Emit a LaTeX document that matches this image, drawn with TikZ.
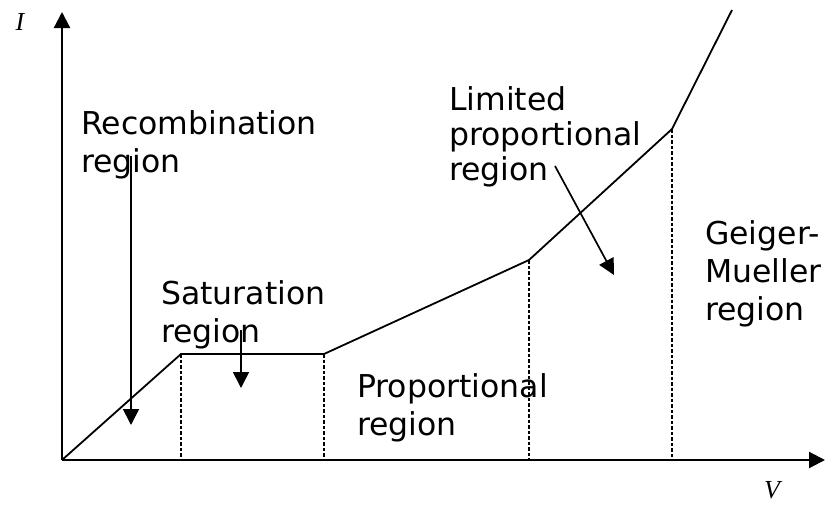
\documentclass[tikz,border=0pt]{standalone}
\usepackage{fontspec}
\setmainfont{DejaVu Sans}
\newfontfamily\axisfont{Liberation Serif}
\usetikzlibrary{arrows.meta}
\begin{document}
\begin{tikzpicture}[x=1pt,y=-1pt,
  axis/.style={line width=2.2pt,-{Triangle[length=16pt,width=16pt]}},
  curve/.style={line width=1.8pt,line join=miter},
  guide/.style={line width=2.7pt,dash pattern=on 3.5pt off 2pt},
  pointer/.style={line width=1.7pt,-{Triangle[length=16pt,width=16pt]}},
  lbl/.style={anchor=base west,inner sep=0pt,align=left,font=\fontsize{31.5}{38}\selectfont},
  axlbl/.style={inner sep=0pt,font=\axisfont\itshape\fontsize{26}{30}\selectfont}]
\useasboundingbox (0,0) rectangle (827,504);
% axes
\coordinate (O) at (62,460);
\coordinate (ytip) at (62,12);
\coordinate (xtip) at (825,460);
\draw[axis] (O) -- (ytip);
\draw[axis] (O) -- (xtip);
\node[axlbl] (I) at (20,22) {I};
\node[axlbl] (V) at (772,490) {V};
% curve
\coordinate (k1) at (181,354);
\coordinate (k2) at (324,354);
\coordinate (k3) at (529,260);
\coordinate (k4) at (672,129);
\coordinate (kend) at (732,10);
\draw[curve] (O) -- (k1) -- (k2) -- (k3) -- (k4) -- (kend);
% dotted guides
\coordinate (b1) at (181,460);
\coordinate (b2) at (324,460);
\coordinate (b3) at (529,460);
\coordinate (b4) at (672,460);
\draw[guide] (k1) -- (b1);
\draw[guide] (k2) -- (b2);
\draw[guide] (k3) -- (b3);
\draw[guide] (k4) -- (b4);
% labels (anchor at baseline of last line)
\node[lbl] (rec) at (81,172) {Recombination\\region};
\node[lbl] (sat) at (161,342) {Saturation\\region};
\node[lbl] (prop) at (357,435) {Proportional\\region};
\node[lbl,font=\fontsize{31.5}{35}\selectfont] (lim) at (449,180) {Limited\\proportional\\region};
\node[lbl] (gm) at (705,320) {Geiger-\\Mueller\\region};
% pointers
\coordinate (r1) at (131,156);
\coordinate (r2) at (131,425);
\coordinate (s1) at (241,330);
\coordinate (s2) at (241,388);
\coordinate (l1) at (555,166);
\coordinate (l2) at (614,275);
\draw[pointer] (r1) -- (r2);
\draw[pointer] (s1) -- (s2);
\draw[pointer] (l1) -- (l2);
\end{tikzpicture}
\end{document}
